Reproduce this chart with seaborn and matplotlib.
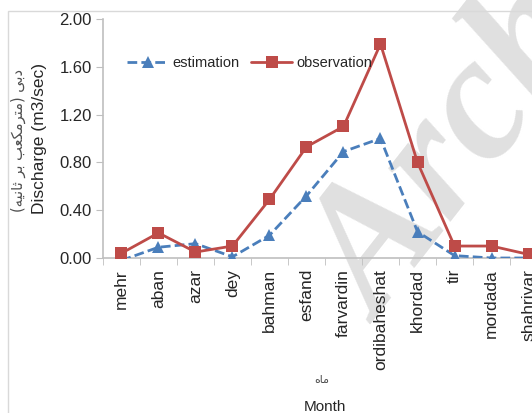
import matplotlib
matplotlib.use("Agg")
import matplotlib.pyplot as plt
import seaborn as sns
import pandas as pd
from matplotlib.patches import Rectangle

# data
months = ["mehr", "aban", "azar", "dey", "bahman", "esfand", "farvardin",
          "ordibaheshat", "khordad", "tir", "mordada", "shahrivar"]
estimation = [-0.02, 0.09, 0.12, 0.01, 0.19, 0.52, 0.89, 1.00, 0.22, 0.02, 0.00, 0.00]
observation = [0.04, 0.21, 0.05, 0.10, 0.49, 0.93, 1.10, 1.79, 0.80, 0.10, 0.10, 0.03]
yticks = [0.0, 0.4, 0.8, 1.2, 1.6, 2.0]

df = pd.DataFrame({"month": months * 2,
                   "value": estimation + observation,
                   "series": ["estimation"] * 12 + ["observation"] * 12})

sns.set_style("white")
plt.rcParams["font.family"] = ["Liberation Sans", "DejaVu Sans"]

fig = plt.figure(figsize=(5.32, 4.13), dpi=100)

# watermark, behind the axes
fig.text(0.53, 0.25, "Arch", rotation=52, ha="left", va="baseline", fontsize=128,
         family="Liberation Serif", style="italic", weight="bold", color="#e0e0e0",
         zorder=-1)

ax = fig.add_axes([0.1936, 0.3753, 0.8346, 0.579])
ax.patch.set_alpha(0)

blue = "#4a7ebb"
red = "#be4b48"
sns.lineplot(data=df, x="month", y="value", hue="series", style="series",
             palette={"estimation": blue, "observation": red},
             dashes={"estimation": (3.5, 1.5), "observation": ""},
             markers={"estimation": "^", "observation": "s"},
             markersize=8.5, linewidth=2, markeredgewidth=0, ax=ax, sort=False)

ax.set_xlim(-0.5, 11.5)
ax.set_ylim(0, 2.0)
ax.set_yticks(yticks)
ax.set_yticklabels([f"{v:.2f}" for v in yticks], fontsize=12)
ax.set_xticks(range(len(months)))
ax.set_xticklabels(months, rotation=90, fontsize=12.5, va="top")
ax.set_xticks([i + 0.5 for i in range(-1, 12)], minor=True)
ax.tick_params(axis="x", which="major", length=0, pad=8)
ax.tick_params(axis="x", which="minor", length=5, color="#bfbfbf", direction="out", bottom=True)
ax.tick_params(axis="y", length=5, color="#bfbfbf", direction="out", left=True, pad=3)

for s in ["top", "right"]:
    ax.spines[s].set_visible(False)
for s in ["left", "bottom"]:
    ax.spines[s].set_color("#bfbfbf")
    ax.spines[s].set_linewidth(1.2)
ax.spines["bottom"].set_zorder(1)

ax.set_xlabel("")
ax.set_ylabel("Discharge (m3/sec)", fontsize=12.5, labelpad=9)

ax.legend(ncol=2, frameon=False, loc="upper left", bbox_to_anchor=(0.025, 0.90),
          fontsize=10.5, handlelength=2.8, columnspacing=0.8, handletextpad=0.3)

# persian labels (presentation forms, visual order)
fa_y = "(\ufeea\ufef4\ufee7\ufe8e\ufe9b \ufeae\ufe91 \ufe90\ufecc\ufedc\ufee3\ufeae\ufe98\ufee3) \ufef0\ufe91\ufea9"
fa_x = "\ufee9\ufe8e\ufee3"
fig.text(0.034, 0.66, fa_y, rotation=90, ha="center", va="center", fontsize=10.5,
         family="DejaVu Sans", color="#505050")
fig.text(0.605, 0.08, fa_x, ha="center", va="center", fontsize=8,
         family="DejaVu Sans", color="#505050")
fig.text(0.61, 0.015, "Month", ha="center", va="center", fontsize=11)

# outer frame of the chart area
fig.patches.append(Rectangle((0.015, -0.1), 1.2, 1.073, transform=fig.transFigure,
                             fill=False, edgecolor="#d9d9d9", linewidth=1))

fig.savefig("out.png", dpi=100)
